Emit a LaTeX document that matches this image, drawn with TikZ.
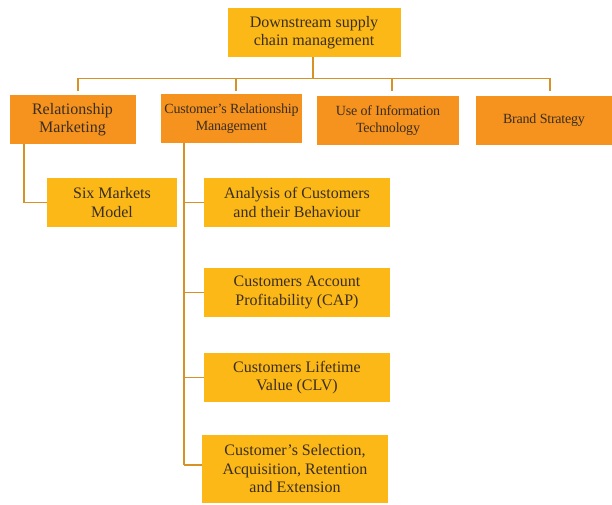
\documentclass[tikz,border=0pt]{standalone}
\usepackage{fontspec}
\setmainfont{Liberation Serif}
\definecolor{boxyellow}{HTML}{FBB817}
\definecolor{boxorange}{HTML}{F6921E}
\definecolor{linkcol}{HTML}{D69127}
\definecolor{inkcol}{HTML}{3A2E22}
\begin{document}
\begin{tikzpicture}[x=1pt,y=-1pt,
  base/.style={inner sep=0pt, align=center, text=inkcol, font=\fontsize{16}{18.5}\selectfont},
  ybox/.style={base, fill=boxyellow},
  obox/.style={base, fill=boxorange},
  osmall/.style={font=\fontsize{14}{16.5}\selectfont\addfontfeature{LetterSpace=-1.5}},
  link/.style={draw=linkcol, line width=1.4pt}]
\useasboundingbox (0,0) rectangle (612,505);

% top of the hierarchy
\node[ybox, minimum width=173pt, minimum height=49pt] (top) at (314,32.5) {Downstream supply\\chain management};

% second level
\node[obox, minimum width=126pt, minimum height=49pt] (rm) at (72.5,119.5) {Relationship\\Marketing};
\node[obox, osmall, minimum width=141pt, minimum height=49pt] (crm) at (231.5,118.5) {Customer’s Relationship\\Management};
\node[obox, osmall, minimum width=142pt, minimum height=49pt] (uit) at (388,120.5) {Use of Information\\Technology};
\node[obox, osmall, minimum width=136pt, minimum height=49pt] (bs) at (544,120.5) {Brand Strategy};

% third level
\node[ybox, minimum width=130pt, minimum height=49pt] (six) at (112,202.5) {Six Markets\\Model};
\node[ybox, minimum width=186pt, minimum height=49pt] (acb) at (297,202.5) {Analysis of Customers\\and their Behaviour};
\node[ybox, minimum width=186pt, minimum height=49pt] (cap) at (297,292.5) {Customers Account\\Profitability (CAP)};
\node[ybox, minimum width=186pt, minimum height=49pt] (clv) at (297,377.5) {Customers Lifetime\\Value (CLV)};
\node[ybox, minimum width=186pt, minimum height=68pt] (sel) at (295,469) {Customer’s Selection,\\Acquisition, Retention\\and Extension};

% bus below the top box
\coordinate (busmid) at (313,78.5);
\coordinate (d1) at (78,78.5);
\coordinate (d2) at (236,78.5);
\coordinate (d3) at (392,78.5);
\coordinate (d4) at (550,78.5);
\draw[link] (top.south -| busmid) -- (busmid);
\draw[link] (d1) -- (d4);
\draw[link] (d1) -- ++(0,12.5);
\draw[link] (d2) -- ++(0,12.5);
\draw[link] (d3) -- ++(0,12.5);
\draw[link] (d4) -- ++(0,12.5);

% branch of Relationship Marketing
\coordinate (rmx) at (24,144);
\draw[link] (rmx) |- (six.west);

% branch of Customer's Relationship Management
\coordinate (crmx) at (184,143);
\coordinate (crmend) at (184,465);
\draw[link] (crmx) -- (crmend);
\draw[link] (crmx |- acb.west) -- (acb.west);
\draw[link] (crmx |- cap.west) -- (cap.west);
\draw[link] (crmx |- clv.west) -- (clv.west);
\draw[link] (crmend) -- (crmend -| sel.west);
\end{tikzpicture}
\end{document}
